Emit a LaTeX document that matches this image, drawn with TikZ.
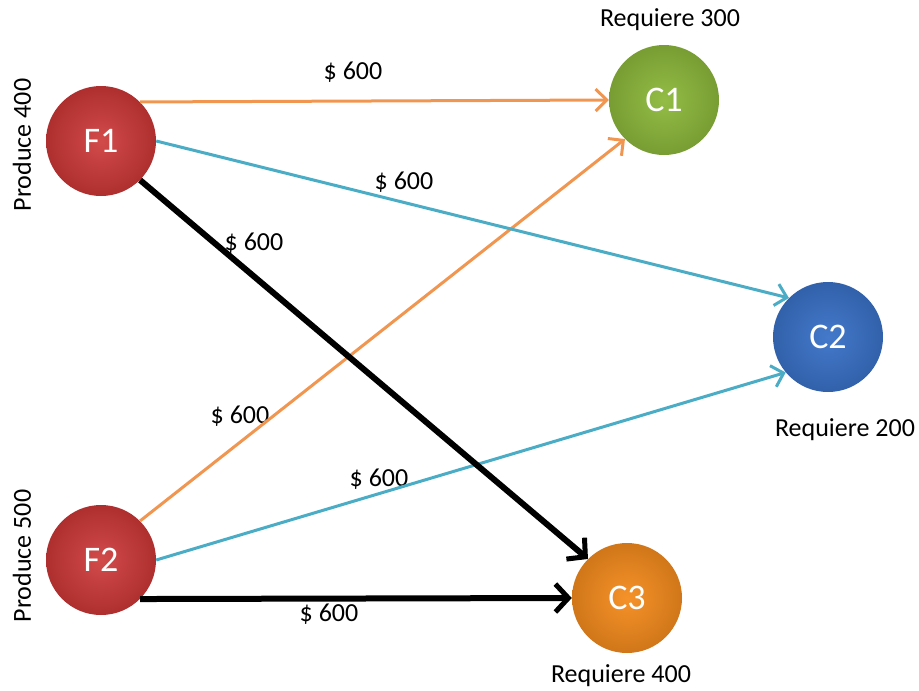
\documentclass[tikz,border=0pt]{standalone}
\usepackage{fontspec}
\setmainfont{Carlito}
\usetikzlibrary{arrows.meta}
\definecolor{fred}{RGB}{205,55,55}
\definecolor{cgreen}{RGB}{141,185,60}
\definecolor{cblue}{RGB}{58,114,200}
\definecolor{corange}{RGB}{245,140,30}
\definecolor{lorange}{RGB}{240,150,80}
\definecolor{lteal}{RGB}{75,172,198}
\begin{document}
\begin{tikzpicture}[x=1pt,y=-1pt]
        \useasboundingbox (0,0) rectangle (919,691);
        \begin{scope}[every node/.style={circle,minimum size=110pt,text=white,font=\fontsize{36}{42}\selectfont}]
            \node[shade,inner color=fred!90!white,outer color=fred!85!black]       (F1) at (101,141) {F1};
            \node[shade,inner color=fred!90!white,outer color=fred!85!black]       (F2) at (101,560) {F2};

            \node[shade,inner color=cgreen!95!white,outer color=cgreen!85!black]   (C1) at (664,100) {C1};
            \node[shade,inner color=cblue!95!white,outer color=cblue!85!black]     (C2) at (828,337) {C2};
            \node[shade,inner color=corange!95!white,outer color=corange!85!black] (C3) at (627,598) {C3};
        \end{scope}
        \begin{scope}[every node/.style={font=\fontsize{26}{31}\selectfont}]
            \node[rotate=90] (p1) at (22,145) {Produce 400};
            \node[rotate=90] (p2) at (22,556) {Produce 500};
            \node (r1) at (670,20)  {Requiere 300};
            \node (r2) at (845,430) {Requiere 200};
            \node (r3) at (621,676) {Requiere 400};
            \foreach \x/\y [count=\i] in {353/72,404/182,254/243,240/416,379/479,329/614}
                {\node (l\i) at (\x,\y) {\$ 600};}
        \end{scope}
        \begin{scope}[line width=3pt,-{Straight Barb[length=11pt,width=22pt,line width=3pt]}]
            \draw[lorange] (F1.north east)--(C1.west);
            \draw[lorange] (F2.north east)--(C1.south west);
            \draw[lteal]   (F1.east)--(C2.north west);
            \draw[lteal]   (F2.east)--(C2.220);
        \end{scope}
        \begin{scope}[line width=6pt,-{Straight Barb[length=13pt,width=28pt,line width=5pt]}]
            \draw (F1.south east)--(C3.north west);
            \draw (F2.south east)--(C3.west);
        \end{scope}
    \end{tikzpicture}
\end{document}
